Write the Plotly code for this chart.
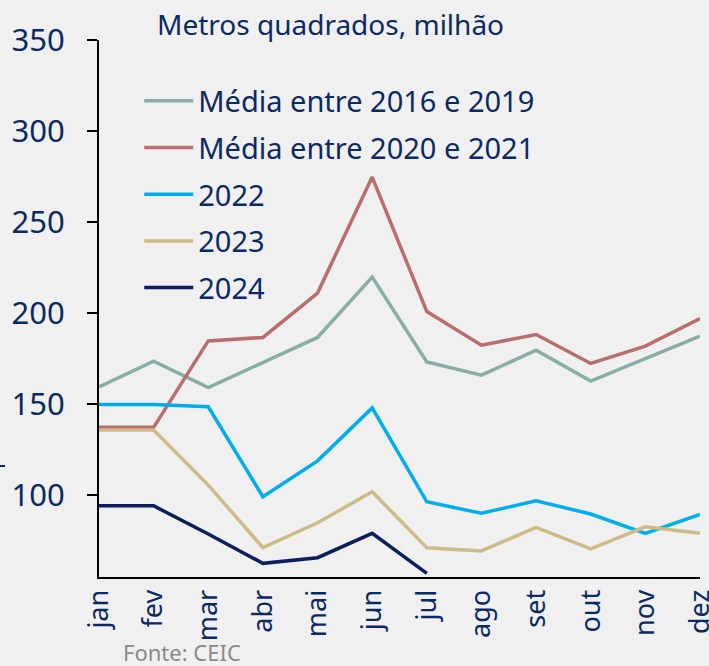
import plotly.graph_objects as go

months = ["jan", "fev", "mar", "abr", "mai", "jun", "jul", "ago", "set", "out", "nov", "dez"]
media_2016_2019 = [159.4, 173.5, 159.1, 172.6, 186.6, 219.8, 173.2, 165.9, 179.6, 162.6, 175.0, 187.3]
media_2020_2021 = [137.2, 137.2, 184.7, 186.6, 211.0, 274.7, 200.8, 182.3, 188.2, 172.3, 181.8, 197.0]
y2022 = [149.8, 149.8, 148.5, 99.1, 118.8, 147.9, 96.3, 90.0, 96.9, 89.6, 79.0, 89.4]
y2023 = [135.7, 135.7, 105.5, 71.1, 84.8, 101.8, 71.1, 69.3, 82.3, 70.4, 82.6, 79.0]
y2024 = [94.1, 94.1, 78.6, 62.5, 65.6, 79.0, 57.0]
y_ticks = [100, 150, 200, 250, 300, 350]

series = [
    ("Média entre 2016 e 2019", media_2016_2019, "#87aea7"),
    ("Média entre 2020 e 2021", media_2020_2021, "#b96d6c"),
    ("2022", y2022, "#00aeef"),
    ("2023", y2023, "#cfbb87"),
    ("2024", y2024, "#0b1f5c"),
]

NAVY = "#0b2a63"
FONT = "Noto Sans"

fig = go.Figure()
for i, (name, vals, color) in enumerate(series):
    fig.add_trace(go.Scatter(
        x=months[:len(vals)], y=vals, name=name, mode="lines",
        line=dict(color=color, width=3.5), legendgroup=str(i),
        cliponaxis=False,
    ))

PW, PH = 601, 537

fig.update_layout(
    width=709, height=666,
    paper_bgcolor="#f0f0f0", plot_bgcolor="#f0f0f0",
    margin=dict(l=99, r=9, t=40, b=89, autoexpand=False),
    font=dict(family=FONT, color=NAVY, size=24),
    showlegend=True,
    legend=dict(
        x=0.067, y=0.934, xanchor="left", yanchor="top",
        bgcolor="rgba(0,0,0,0)", font=dict(size=29, color=NAVY, family=FONT),
        tracegroupgap=6, itemwidth=49,
    ),
    xaxis=dict(
        type="category", range=[0, 11], showgrid=False, zeroline=False,
        showline=True, linecolor="#000000", linewidth=2, automargin=False,
        ticks="", tickangle=-90, tickfont=dict(size=27, color=NAVY, family=FONT),
    ),
    yaxis=dict(
        range=[55, 350], tickvals=y_ticks, showgrid=False, zeroline=False,
        showline=True, linecolor="#000000", linewidth=2, automargin=False,
        ticks="outside", ticklen=10, tickcolor="#000000", tickwidth=2,
        tickfont=dict(size=31, color=NAVY, family=FONT), ticklabelstandoff=16,
    ),
    annotations=[
        dict(text="Metros quadrados, milhão", xref="paper", yref="paper",
             x=(155 - 99) / PW, y=1 + 16 / PH, xanchor="left", yanchor="middle",
             showarrow=False, font=dict(size=28, color=NAVY, family=FONT)),
        dict(text="Fonte: CEIC", xref="paper", yref="paper",
             x=(121 - 99) / PW, y=-(652 - 577) / PH, xanchor="left", yanchor="middle",
             showarrow=False, font=dict(size=22, color="#8a8a8a", family=FONT)),
    ],
    shapes=[
        dict(type="line", xref="paper", yref="paper",
             x0=-99 / PW, x1=-94 / PW, y0=(577 - 466) / PH, y1=(577 - 466) / PH,
             line=dict(color="#0b2a63", width=2)),
    ],
)

fig.write_html("out.html", config={"displayModeBar": False},
               post_script="document.body.style.margin='0';")
